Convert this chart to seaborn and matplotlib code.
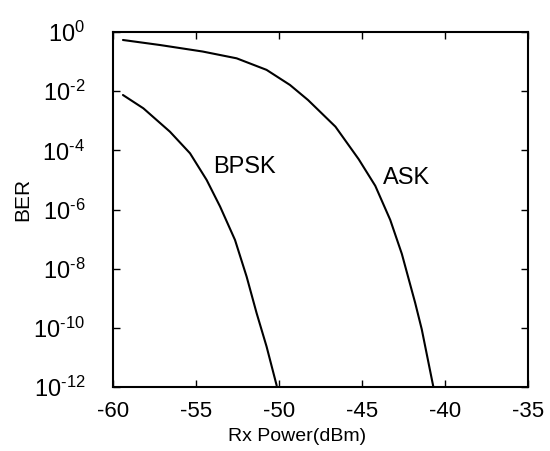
import numpy as np
import pandas as pd
import matplotlib
matplotlib.use("Agg")
import matplotlib.pyplot as plt
import matplotlib.ticker as mticker
import seaborn as sns

# BER curves (x in dBm, BER as log10 exponent)
bpsk_x = [-59.4, -58.17, -56.57, -55.36, -54.36, -53.55, -52.65, -51.95, -51.35, -50.75, -50.14]
bpsk_exp = [-2.13, -2.58, -3.37, -4.10, -5.0, -5.9, -7.03, -8.27, -9.5, -10.63, -11.95]

ask_x = [-59.4, -57.17, -54.6, -52.55, -50.75, -49.34, -48.25, -46.6, -45.2, -44.2,
         -43.3, -42.6, -41.8, -41.4, -40.7]
ask_exp = [-0.27, -0.44, -0.66, -0.89, -1.28, -1.79, -2.3, -3.2, -4.3, -5.2,
           -6.35, -7.5, -9.15, -10.05, -12.0]

x_ticks = [-60, -55, -50, -45, -40, -35]
y_exps = [0, -2, -4, -6, -8, -10, -12]

df = pd.concat([
    pd.DataFrame({"power": bpsk_x, "ber": 10.0 ** np.array(bpsk_exp), "mod": "BPSK"}),
    pd.DataFrame({"power": ask_x, "ber": 10.0 ** np.array(ask_exp), "mod": "ASK"}),
])

sns.set_style("ticks")
plt.rcParams["font.family"] = ["Liberation Sans", "DejaVu Sans"]
plt.rcParams["mathtext.fontset"] = "custom"
plt.rcParams["mathtext.rm"] = "Liberation Sans"
plt.rcParams["mathtext.it"] = "Liberation Sans"
plt.rcParams["mathtext.default"] = "regular"
plt.rcParams["text.color"] = "black"
plt.rcParams["axes.labelcolor"] = "black"

fig, ax = plt.subplots(figsize=(5.5, 4.51), dpi=100)
fig.subplots_adjust(left=113 / 550, right=528 / 550, top=1 - 32 / 451, bottom=1 - 387 / 451)

sns.lineplot(data=df, x="power", y="ber", units="mod", estimator=None,
             color="black", linewidth=1.5, legend=False, ax=ax)

ax.set_yscale("log")
ax.set_xlim(-60, -35)
ax.set_ylim(1e-12, 1e0)
ax.set_xticks(x_ticks)
ax.set_xticklabels([str(v) for v in x_ticks])
ax.set_yticks([10.0 ** e for e in y_exps])
ax.yaxis.set_minor_locator(mticker.NullLocator())
ax.set_yticklabels([f"$10^{{\\text{{-}}{-e}}}$" if e < 0 else "$10^{0}$" for e in y_exps])

for s in ax.spines.values():
    s.set_visible(True)
    s.set_linewidth(1.5)
    s.set_color("black")
ax.tick_params(direction="in", top=True, right=True, length=5, width=1,
               colors="black")
ax.tick_params(axis="y", pad=20, labelsize=17)
ax.tick_params(axis="x", pad=10, labelsize=16)

ax.set_xlabel("Rx Power(dBm)", fontsize=14)
ax.set_ylabel("BER", fontsize=15)
ax.xaxis.set_label_coords((297 - 113) / 415, -0.115)
ax.yaxis.set_label_coords(-0.195, 0.527)

ax.text(-53.98, 10 ** -4.56, "BPSK", fontsize=17, ha="left", va="center")
ax.text(-43.73, 10 ** -4.93, "ASK", fontsize=17, ha="left", va="center")

fig.savefig("out.png", dpi=100)
